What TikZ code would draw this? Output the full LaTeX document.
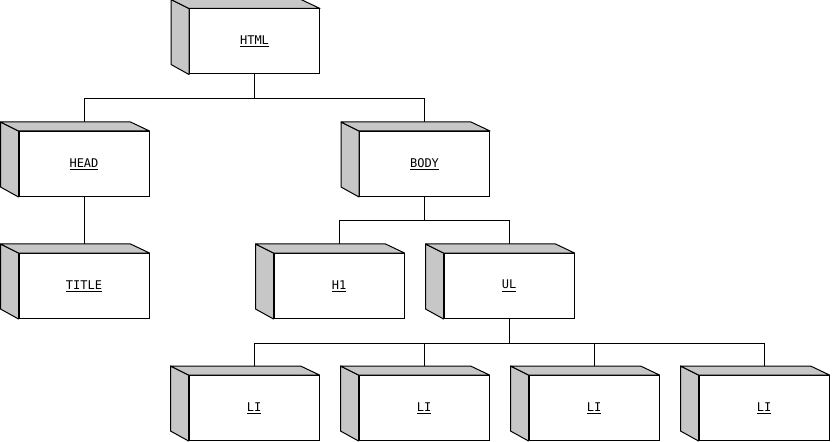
\documentclass[tikz,border=0pt]{standalone}
\usepackage{fontspec}
\setmonofont{DejaVu Sans Mono}
\usetikzlibrary{backgrounds}

\tikzset{
  domnode/.style={draw, fill=white, line width=0.75pt, rectangle, inner sep=0pt,
    minimum width=130*0.75pt, minimum height=65*0.75pt,
    font=\ttfamily\fontsize{9}{11}\selectfont},
  face/.style={fill=black!22, draw=black, line width=0.75pt, line join=round},
  link/.style={draw, line width=0.75pt}
}
\newcommand{\elname}[1]{\underline{#1}}

\begin{document}
\begin{tikzpicture}[x=0.75pt, y=-0.75pt]
    % Fix the canvas (pixels of the reference)
    \useasboundingbox (0,0) rectangle (832,442);

    % Tree of elements
    \node[domnode] (html)  at (254.5,41.5) {\elname{HTML}};
    \node[domnode] (head)  at (84,164)     {\elname{HEAD}};
    \node[domnode] (body)  at (424.5,164)  {\elname{BODY}};
    \node[domnode] (title) at (84,286)     {\elname{TITLE}};
    \node[domnode] (h1)    at (339,286)    {\elname{H1}};
    \node[domnode] (ul)    at (509,286)    {\elname{UL}};
    \foreach \i/\x in {1/254,2/424,3/594,4/764}
        \node[domnode] (li\i) at (\x,408) {\elname{LI}};

    % Side and top faces of each box
    \foreach \n in {html,head,body,title,h1,ul,li1,li2,li3,li4}{
        \filldraw[face] (\n.north west) -- ++(-18,-9) -- ++(0,65) -- (\n.south west) -- cycle;
        \filldraw[face] (\n.north west) -- ++(-18,-9) -- ++(130,0) -- (\n.north east) -- cycle;
    }

    % Connectors
    \begin{scope}[on background layer]
        \draw[link] (html.south) -- ++(0,24) -| (head.north);
        \draw[link] (html.south) -- ++(0,24) -| (body.north);
        \draw[link] (head.south) -- (title.north);
        \draw[link] (body.south) -- ++(0,24) -| (h1.north);
        \draw[link] (body.south) -- ++(0,24) -| (ul.north);
        \foreach \i in {1,2,3,4}
            \draw[link] (ul.south) -- ++(0,24) -| (li\i.north);
    \end{scope}

\end{tikzpicture}
\end{document}
